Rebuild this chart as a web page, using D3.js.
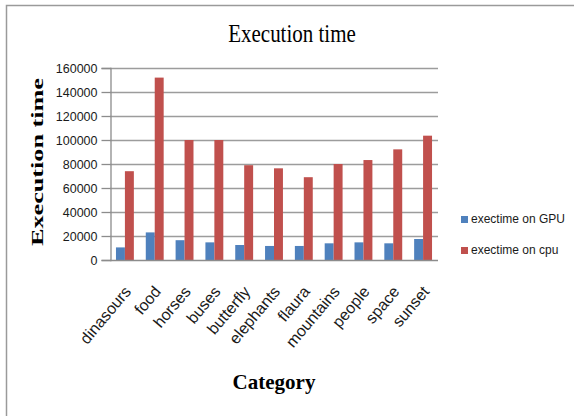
<!DOCTYPE html>
<html>
<head>
<meta charset="utf-8">
<script src="https://cdn.jsdelivr.net/npm/d3@7"></script>
<style>
  html, body { margin: 0; padding: 0; background: #fff; }
  svg { display: block; }
</style>
</head>
<body>
<svg id="chart" width="574" height="416"></svg>
<script>
// Image categories and measured execution times
const categories = ["dinasours", "food", "horses", "buses", "butterfly", "elephants",
                    "flaura", "mountains", "people", "space", "sunset"];
const gpuTimes = [10500, 23000, 16500, 14700, 12500, 11700, 11700, 13900, 14700, 13900, 17500];
const cpuTimes = [74000, 152000, 100000, 100000, 79000, 76400, 69000, 80000, 83300, 92200, 103600];
const seriesNames = ["exectime on GPU", "exectime on cpu"];
const seriesColors = ["#4F81BD", "#C0504D"];
const yTicks = [0, 20000, 40000, 60000, 80000, 100000, 120000, 140000, 160000];

const svg = d3.select("#chart");

// outer frame (top and left edges)
svg.append("path")
  .attr("d", "M6.5,416 V5.5 H574")
  .attr("fill", "none")
  .attr("stroke", "#9a9a9a")
  .attr("stroke-width", 1.5);

const plot = { left: 110, right: 438, top: 68, bottom: 260 };

const x = d3.scaleBand()
  .domain(categories)
  .range([plot.left, plot.right])
  .paddingInner(0.4)
  .paddingOuter(0.2);

const xInner = d3.scaleBand()
  .domain([0, 1])
  .range([0, x.bandwidth()]);

const y = d3.scaleLinear()
  .domain([0, 160000])
  .range([plot.bottom, plot.top]);

// horizontal gridlines
svg.append("g")
  .selectAll("line")
  .data(yTicks.slice(1))
  .join("line")
  .attr("x1", plot.left)
  .attr("x2", plot.right)
  .attr("y1", d => Math.round(y(d)) + 0.5)
  .attr("y2", d => Math.round(y(d)) + 0.5)
  .attr("stroke", "#9c9c9c")
  .attr("stroke-width", 1.3);

// y axis
const yAxis = d3.axisLeft(y)
  .tickValues(yTicks)
  .tickSize(9)
  .tickPadding(4)
  .tickFormat(d3.format("d"));

const gy = svg.append("g")
  .attr("transform", `translate(${plot.left + 0.5},0)`)
  .call(yAxis);
gy.select(".domain").attr("stroke", "#8c8c8c").attr("stroke-width", 1.3);
gy.selectAll(".tick line").attr("stroke", "#8c8c8c").attr("stroke-width", 1.3);
gy.selectAll(".tick text")
  .attr("font-family", "Liberation Sans, Arial, sans-serif")
  .attr("font-size", 12.5)
  .attr("fill", "#1a1a1a");

// bars
const rows = categories.map((c, i) => ({ cat: c, vals: [gpuTimes[i], cpuTimes[i]] }));

const groups = svg.append("g")
  .selectAll("g")
  .data(rows)
  .join("g")
  .attr("transform", d => `translate(${x(d.cat)},0)`);

groups.selectAll("rect")
  .data(d => d.vals.map((v, k) => ({ v, k })))
  .join("rect")
  .attr("x", d => xInner(d.k))
  .attr("width", xInner.bandwidth())
  .attr("y", d => y(d.v))
  .attr("height", d => y(0) - y(d.v))
  .attr("fill", d => seriesColors[d.k]);

// x axis line
svg.append("line")
  .attr("x1", plot.left)
  .attr("x2", plot.right)
  .attr("y1", plot.bottom + 0.5)
  .attr("y2", plot.bottom + 0.5)
  .attr("stroke", "#8c8c8c")
  .attr("stroke-width", 1.3);

// category labels, rotated
svg.append("g")
  .selectAll("text")
  .data(categories)
  .join("text")
  .attr("transform", d => `translate(${x(d) + x.bandwidth() / 2 + 7},${plot.bottom + 32}) rotate(-50)`)
  .attr("text-anchor", "end")
  .attr("font-family", "Liberation Sans, Arial, sans-serif")
  .attr("font-size", 16)
  .attr("fill", "#1a1a1a")
  .text(d => d);

// chart title
svg.append("text")
  .attr("transform", "translate(292,42) scale(1,1.15)")
  .attr("text-anchor", "middle")
  .attr("font-family", "Liberation Serif, Times New Roman, serif")
  .attr("font-size", 21)
  .attr("fill", "#000")
  .text("Execution time");

// y axis title
svg.append("text")
  .attr("transform", "translate(43,162) rotate(-90)")
  .attr("text-anchor", "middle")
  .attr("font-family", "Liberation Serif, Times New Roman, serif")
  .attr("font-weight", "bold")
  .attr("font-size", 16)
  .attr("textLength", 168)
  .attr("lengthAdjust", "spacingAndGlyphs")
  .attr("fill", "#000")
  .text("Execution time");

// x axis title
svg.append("text")
  .attr("x", 274)
  .attr("y", 389)
  .attr("text-anchor", "middle")
  .attr("font-family", "Liberation Serif, Times New Roman, serif")
  .attr("font-weight", "bold")
  .attr("font-size", 21)
  .attr("fill", "#000")
  .text("Category");

// legend
const legend = svg.append("g")
  .selectAll("g")
  .data(seriesNames)
  .join("g")
  .attr("transform", (d, i) => `translate(461,${216 + i * 31})`);

legend.append("rect")
  .attr("width", 7)
  .attr("height", 7)
  .attr("fill", (d, i) => seriesColors[i]);

legend.append("text")
  .attr("x", 10)
  .attr("y", 7)
  .attr("font-family", "Liberation Sans, Arial, sans-serif")
  .attr("font-size", 12)
  .attr("fill", "#1a1a1a")
  .text(d => d);
</script>
</body>
</html>
